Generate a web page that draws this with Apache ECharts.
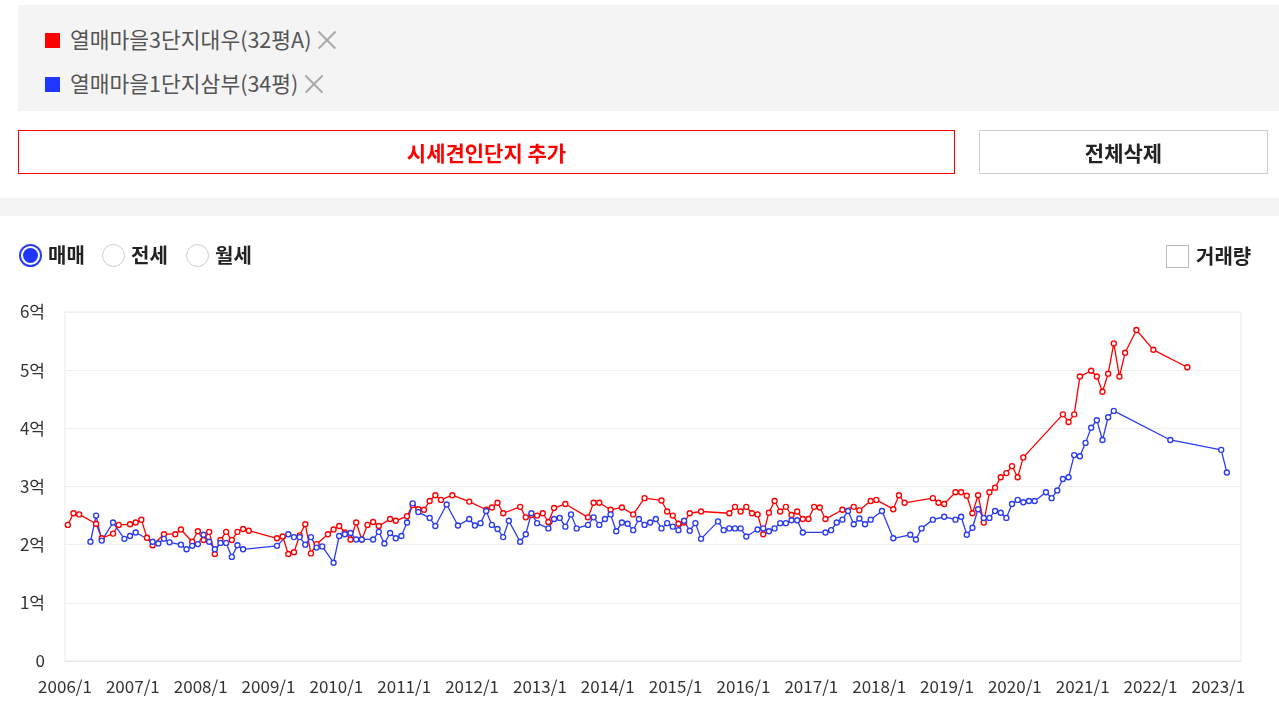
<!DOCTYPE html>
<html>
<head>
<meta charset="utf-8">
<script src="https://cdn.jsdelivr.net/npm/echarts@6/dist/echarts.min.js"></script>
<style>
  html, body { margin:0; padding:0; width:1279px; height:712px; overflow:hidden; background:#fff;
    font-family:"Noto Sans CJK KR","Noto Sans",sans-serif; }
  .abs { position:absolute; }
  #chart { position:absolute; left:0; top:0; width:1279px; height:712px; }
  .legendBox { left:18px; top:5px; width:1261px; height:106px; background:#f4f4f4; }
  .lg { left:45px; height:28px; line-height:28px; font-size:21.5px; color:#555; white-space:nowrap; }
  .lg .sq { display:inline-block; width:15px; height:15px; vertical-align:middle; margin-right:10px; position:relative; top:-2px; }
  .lg .x { display:inline-block; position:relative; width:20px; height:20px; margin-left:6px; vertical-align:middle; top:-2px; }
  .lg .x:before, .lg .x:after { content:''; position:absolute; left:-2px; top:9px; width:24px; height:1.6px; background:#a9a9a9; }
  .lg .x:before { transform:rotate(45deg); }
  .lg .x:after { transform:rotate(-45deg); }
  .btn { height:44px; line-height:42px; text-align:center; font-size:21px; font-weight:bold; box-sizing:border-box; }
  .sep { left:0; top:198px; width:1279px; height:18px; background:#f4f4f4; }
  .radio { top:244px; width:23px; height:23px; border-radius:50%; box-sizing:border-box; }
  .rlab { top:241px; font-size:20px; font-weight:bold; color:#222; line-height:28px; }
</style>
</head>
<body>
<div id="chart"></div>

<div class="abs legendBox"></div>
<div class="abs lg" style="top:25px;"><span class="sq" style="background:#ff0000"></span>열매마을3단지대우(32평A)<span class="x"></span></div>
<div class="abs lg" style="top:69px;"><span class="sq" style="background:#1f36ff"></span>열매마을1단지삼부(34평)<span class="x"></span></div>

<div class="abs btn" style="left:18px; top:130px; width:937px; border:1px solid #ff0000; color:#ff0000;">시세견인단지 추가</div>
<div class="abs btn" style="left:979px; top:130px; width:289px; border:1px solid #cfcfcf; color:#222;">전체삭제</div>

<div class="abs sep"></div>

<div class="abs radio" style="left:19px; border:2px solid #2d3cf0; background:#fff;">
  <div style="position:absolute; left:2px; top:2px; width:15px; height:15px; border-radius:50%; background:#1f36ff;"></div>
</div>
<div class="abs rlab" style="left:48px;">매매</div>
<div class="abs radio" style="left:102px; border:1px solid #c9ccd6; background:#fff;"></div>
<div class="abs rlab" style="left:131px;">전세</div>
<div class="abs radio" style="left:186px; border:1px solid #c9ccd6; background:#fff;"></div>
<div class="abs rlab" style="left:215px;">월세</div>

<div class="abs" style="left:1166px; top:245px; width:23px; height:23px; border:1px solid #bbb; box-sizing:border-box; background:#fff;"></div>
<div class="abs rlab" style="left:1196px; top:242px;">거래량</div>

<script>
// ---- data (values in 억원, one value per month) ----
const seriesNames = ['열매마을3단지대우(32평A)', '열매마을1단지삼부(34평)'];

const redMonths = ['2006/1','2006/2','2006/3','2006/6','2006/7','2006/9','2006/10','2006/12',
'2007/1','2007/2','2007/3','2007/4','2007/6','2007/8','2007/9','2007/11','2007/12',
'2008/1','2008/2','2008/3','2008/4','2008/5','2008/6','2008/7','2008/8','2008/9',
'2009/2','2009/3','2009/4','2009/5','2009/6','2009/7','2009/8','2009/9','2009/11','2009/12',
'2010/1','2010/2','2010/3','2010/4','2010/5','2010/6','2010/7','2010/8','2010/10','2010/11',
'2011/1','2011/2','2011/3','2011/4','2011/5','2011/6','2011/7','2011/9','2011/12',
'2012/3','2012/4','2012/5','2012/6','2012/9','2012/10','2012/11','2012/12',
'2013/1','2013/2','2013/3','2013/5','2013/9','2013/10','2013/11',
'2014/1','2014/3','2014/5','2014/7','2014/10','2014/11','2014/12',
'2015/1','2015/2','2015/3','2015/5','2015/10','2015/11','2015/12',
'2016/1','2016/2','2016/3','2016/4','2016/5','2016/6','2016/7','2016/8','2016/9','2016/10','2016/11','2016/12',
'2017/1','2017/2','2017/3','2017/6','2017/8','2017/9','2017/11','2017/12',
'2018/3','2018/4','2018/5','2018/10','2018/11','2018/12',
'2019/2','2019/3','2019/4','2019/5','2019/6','2019/7','2019/8','2019/9','2019/10','2019/11','2019/12',
'2020/1','2020/2','2020/9','2020/10','2020/11','2020/12',
'2021/2','2021/3','2021/4','2021/5','2021/6','2021/7','2021/8','2021/10',
'2022/1','2022/7'];
const redValues = [2.34,2.54,2.52,2.36,2.11,2.19,2.34,2.35,
2.38,2.43,2.12,1.99,2.18,2.18,2.26,2.05,2.23,
2.08,2.22,1.84,2.08,2.22,2.08,2.22,2.27,2.24,
2.11,2.14,1.84,1.87,2.16,2.35,1.85,2.01,2.18,2.26,
2.32,2.21,2.09,2.38,2.09,2.34,2.39,2.32,2.44,2.41,
2.49,2.68,2.61,2.60,2.75,2.85,2.77,2.85,2.74,
2.60,2.64,2.72,2.54,2.65,2.47,2.51,2.50,
2.54,2.39,2.63,2.70,2.47,2.72,2.72,
2.60,2.64,2.52,2.80,2.76,2.57,2.50,
2.36,2.38,2.54,2.57,2.54,2.65,2.57,
2.65,2.54,2.52,2.18,2.55,2.75,2.57,2.65,2.51,2.57,2.44,2.44,
2.65,2.64,2.44,2.60,2.65,2.59,2.75,2.77,
2.61,2.85,2.72,2.80,2.72,2.70,
2.90,2.90,2.84,2.54,2.85,2.38,2.90,2.98,3.16,3.23,3.35,
3.16,3.50,4.24,4.11,4.24,4.89,
4.99,4.89,4.63,4.94,5.46,4.89,5.30,5.69,
5.35,5.05];

const blueMonths = ['2006/5','2006/6','2006/7','2006/9','2006/11','2006/12',
'2007/1','2007/4','2007/5','2007/6','2007/7','2007/9','2007/10','2007/11','2007/12',
'2008/1','2008/2','2008/3','2008/4','2008/5','2008/6','2008/7','2008/8',
'2009/2','2009/4','2009/5','2009/6','2009/7','2009/8','2009/9','2009/10','2009/12',
'2010/1','2010/2','2010/3','2010/4','2010/5','2010/7','2010/8','2010/9','2010/10','2010/11','2010/12',
'2011/1','2011/2','2011/3','2011/5','2011/6','2011/8','2011/10','2011/12',
'2012/1','2012/2','2012/3','2012/4','2012/5','2012/6','2012/7','2012/9','2012/10','2012/11','2012/12',
'2013/2','2013/3','2013/4','2013/5','2013/6','2013/7','2013/9','2013/10','2013/11','2013/12',
'2014/1','2014/2','2014/3','2014/4','2014/5','2014/6','2014/7','2014/8','2014/9','2014/10','2014/11','2014/12',
'2015/1','2015/2','2015/3','2015/4','2015/5','2015/8','2015/9','2015/10','2015/11','2015/12',
'2016/1','2016/3','2016/4','2016/5','2016/6','2016/7','2016/8','2016/9','2016/10','2016/11',
'2017/3','2017/4','2017/5','2017/6','2017/7','2017/8','2017/9','2017/10','2017/11',
'2018/1','2018/3','2018/6','2018/7','2018/8','2018/10','2018/12',
'2019/2','2019/3','2019/4','2019/5','2019/6','2019/7','2019/8','2019/9','2019/10','2019/11','2019/12',
'2020/1','2020/2','2020/3','2020/4','2020/6','2020/7','2020/8','2020/9','2020/10','2020/11','2020/12',
'2021/1','2021/2','2021/3','2021/4','2021/5','2021/6',
'2022/4','2023/1','2023/2'];
const blueValues = [2.05,2.50,2.07,2.38,2.10,2.15,
2.21,2.05,2.02,2.10,2.04,2.00,1.92,1.98,2.01,
2.17,2.05,1.92,2.03,2.03,1.79,1.99,1.92,
1.98,2.18,2.13,2.13,2.00,2.13,1.95,1.97,1.69,
2.15,2.18,2.20,2.09,2.09,2.09,2.22,2.02,2.20,2.11,2.15,
2.38,2.71,2.56,2.46,2.32,2.69,2.33,2.44,
2.33,2.37,2.58,2.34,2.27,2.13,2.41,2.05,2.18,2.54,2.37,
2.28,2.44,2.46,2.31,2.52,2.28,2.34,2.47,2.34,2.44,
2.52,2.23,2.38,2.36,2.25,2.44,2.34,2.38,2.44,2.28,2.37,2.31,
2.25,2.41,2.24,2.37,2.10,2.40,2.25,2.28,2.28,2.28,
2.14,2.26,2.28,2.23,2.28,2.37,2.37,2.42,2.42,2.21,
2.21,2.25,2.38,2.43,2.58,2.35,2.45,2.35,2.43,
2.58,2.11,2.17,2.09,2.28,2.43,2.48,
2.43,2.48,2.17,2.29,2.61,2.46,2.46,2.58,2.55,2.46,2.70,
2.77,2.73,2.75,2.75,2.90,2.80,2.93,3.13,3.16,3.54,3.52,
3.75,4.01,4.14,3.80,4.19,4.30,
3.80,3.63,3.24];

const startYear = 2006;
const axisMaxMonth = 208; // months after 2006/1 (right edge ≈ 2023/5)

// monthly values are plotted at the middle of their month
function monthIndex(s) {
  const p = s.split('/').map(Number);
  return (p[0] - startYear) * 12 + (p[1] - 1) + 0.5;
}
function pairs(months, vals) { return months.map((m, i) => [monthIndex(m), vals[i]]); }

const chart = echarts.init(document.getElementById('chart'), null, { renderer: 'canvas' });
const axisText = { color: '#333', fontSize: 17, fontFamily: '"Noto Sans CJK KR","Noto Sans",sans-serif' };

chart.setOption({
  animation: false,
  grid: { left: 65, right: 38, top: 312, bottom: 51, containLabel: false, outerBoundsMode: 'none',
          show: true, borderColor: '#ebebeb', borderWidth: 1, backgroundColor: 'transparent' },
  xAxis: {
    type: 'value', min: 0, max: axisMaxMonth, interval: 12,
    axisLine: { show: true, lineStyle: { color: '#e6e6e6' } },
    axisTick: { show: false },
    splitLine: { show: false },
    axisLabel: Object.assign({ margin: 17, showMaxLabel: true,
      formatter: v => (v % 12 === 0) ? (startYear + v / 12) + '/1' : '' }, axisText)
  },
  yAxis: {
    type: 'value', min: 0, max: 6, interval: 1,
    axisLine: { show: false }, axisTick: { show: false },
    splitLine: { show: true, lineStyle: { color: '#eeeeee' } },
    axisLabel: Object.assign({ margin: 20, formatter: v => v === 0 ? '0' : v + '억' }, axisText)
  },
  series: [
    { name: seriesNames[0], type: 'line', data: pairs(redMonths, redValues),
      symbol: 'circle', symbolSize: 5, showAllSymbol: true,
      lineStyle: { color: '#ff0000', width: 1.3 },
      itemStyle: { color: '#fff', borderColor: '#ff0000', borderWidth: 1.4 } },
    { name: seriesNames[1], type: 'line', data: pairs(blueMonths, blueValues),
      symbol: 'circle', symbolSize: 5, showAllSymbol: true,
      lineStyle: { color: '#2b3cf2', width: 1.3 },
      itemStyle: { color: '#fff', borderColor: '#2b3cf2', borderWidth: 1.4 } }
  ]
});
</script>
</body>
</html>
